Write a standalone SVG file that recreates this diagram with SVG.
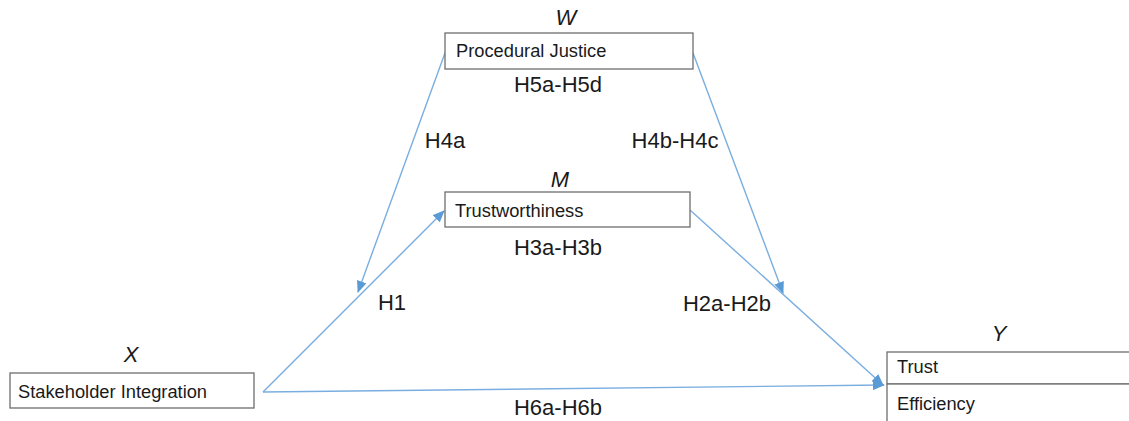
<svg xmlns="http://www.w3.org/2000/svg" width="1129" height="421" viewBox="0 0 1129 421">
<style>
.box{fill:#fff;stroke:#6e6e6e;stroke-width:1.3}
.bt{font-family:"Liberation Sans",Arial,sans-serif;font-size:18.3px;fill:#1a1a1a}
.lab{font-family:"Liberation Sans",Arial,sans-serif;font-size:22px;fill:#1a1a1a;text-anchor:middle}
.var{font-family:"Liberation Sans",Arial,sans-serif;font-size:22px;font-style:italic;fill:#1a1a1a;text-anchor:middle}
.con{stroke:#7aaee0;stroke-width:1.4;fill:none}
</style>
<defs>
<marker id="ah" markerUnits="userSpaceOnUse" markerWidth="12" markerHeight="10" refX="11" refY="5" orient="auto">
<path d="M0,0 L12,5 L0,10 Z" fill="#5b9bd5"/>
</marker>
</defs>
<rect width="1129" height="421" fill="#fff"/>
<g id="connectors">
<line class="con" x1="445" y1="53" x2="358" y2="292" marker-end="url(#ah)"/>
<line class="con" x1="693" y1="53" x2="783" y2="293" marker-end="url(#ah)"/>
<line class="con" x1="263" y1="392" x2="444" y2="211" marker-end="url(#ah)"/>
<line class="con" x1="690" y1="210" x2="883" y2="385" marker-end="url(#ah)"/>
<line class="con" x1="263" y1="392" x2="884" y2="385" marker-end="url(#ah)"/>
</g>
<g id="node-W">
<text class="var" x="566" y="25">W</text>
<rect class="box" x="445" y="33" width="248" height="36"/>
<text class="bt" x="456" y="57">Procedural Justice</text>
</g>
<g id="node-M">
<text class="var" x="560" y="187">M</text>
<rect class="box" x="445" y="192" width="245" height="35"/>
<text class="bt" x="455" y="217">Trustworthiness</text>
</g>
<g id="node-X">
<text class="var" x="131" y="362">X</text>
<rect class="box" x="10" y="373" width="244" height="35"/>
<text class="bt" x="18" y="398">Stakeholder Integration</text>
</g>
<g id="node-Y">
<text class="var" x="999" y="341">Y</text>
<rect class="box" x="887" y="352" width="250" height="32"/>
<rect class="box" x="887" y="384" width="250" height="46"/>
<text class="bt" x="897" y="373">Trust</text>
<text class="bt" x="897" y="410">Efficiency</text>
</g>
<g id="labels">
<text class="lab" x="558" y="92">H5a-H5d</text>
<text class="lab" x="445" y="148">H4a</text>
<text class="lab" x="675" y="148">H4b-H4c</text>
<text class="lab" x="558" y="255">H3a-H3b</text>
<text class="lab" x="392" y="310">H1</text>
<text class="lab" x="727" y="311">H2a-H2b</text>
<text class="lab" x="558" y="415">H6a-H6b</text>
</g>
</svg>
